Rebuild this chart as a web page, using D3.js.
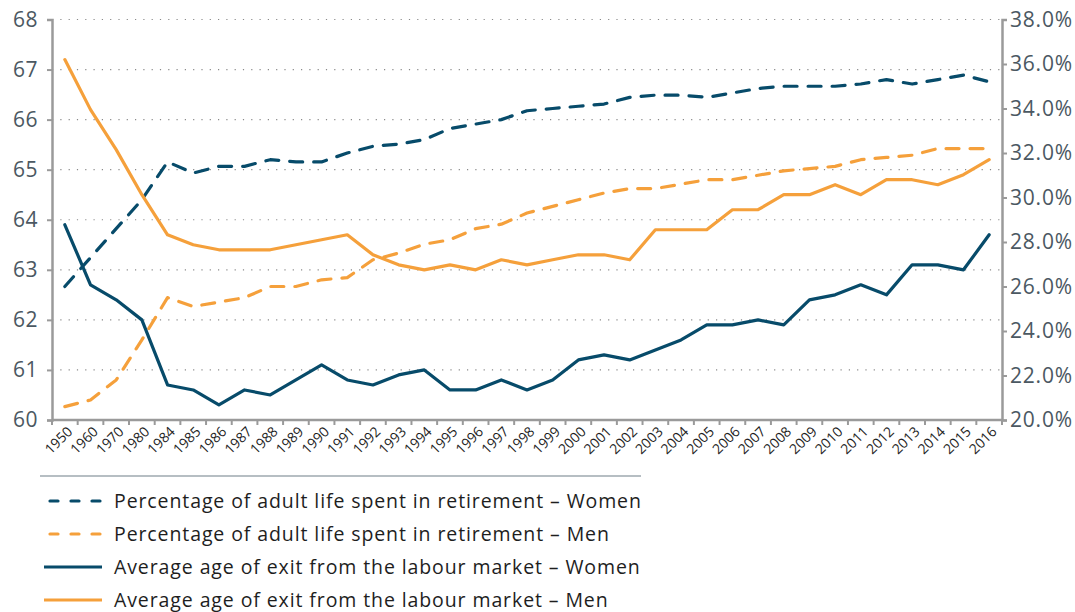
<!DOCTYPE html>
<html><head><meta charset="utf-8">
<script src="https://cdn.jsdelivr.net/npm/d3@7/dist/d3.min.js"></script>
<style>
body{margin:0;background:#fff;}
svg{display:block;font-family:"Open Sans",Lato,sans-serif;}
</style></head>
<body>
<svg id="chart" width="1075" height="612"></svg>
<script>
const years = ["1950","1960","1970","1980","1984","1985","1986","1987","1988","1989","1990","1991","1992","1993","1994","1995","1996","1997","1998","1999","2000","2001","2002","2003","2004","2005","2006","2007","2008","2009","2010","2011","2012","2013","2014","2015","2016"];
// Percentage of adult life spent in retirement (right axis, %)
const pctWomen = [26.0,27.3,28.6,29.9,31.6,31.1,31.4,31.4,31.7,31.6,31.6,32.0,32.3,32.4,32.6,33.1,33.3,33.5,33.9,34.0,34.1,34.2,34.5,34.6,34.6,34.5,34.7,34.9,35.0,35.0,35.0,35.1,35.3,35.1,35.3,35.5,35.2];
const pctMen = [20.6,20.9,21.8,23.6,25.5,25.1,25.3,25.5,26.0,26.0,26.3,26.4,27.2,27.5,27.9,28.1,28.6,28.8,29.3,29.6,29.9,30.2,30.4,30.4,30.6,30.8,30.8,31.0,31.2,31.3,31.4,31.7,31.8,31.9,32.2,32.2,32.2];
// Average age of exit from the labour market (left axis)
const ageWomen = [63.9,62.7,62.4,62.0,60.7,60.6,60.3,60.6,60.5,60.8,61.1,60.8,60.7,60.9,61.0,60.6,60.6,60.8,60.6,60.8,61.2,61.3,61.2,61.4,61.6,61.9,61.9,62.0,61.9,62.4,62.5,62.7,62.5,63.1,63.1,63.0,63.7];
const ageMen = [67.2,66.2,65.4,64.5,63.7,63.5,63.4,63.4,63.4,63.5,63.6,63.7,63.3,63.1,63.0,63.1,63.0,63.2,63.1,63.2,63.3,63.3,63.2,63.8,63.8,63.8,64.2,64.2,64.5,64.5,64.7,64.5,64.8,64.8,64.7,64.9,65.2];
const leftTicks = [60,61,62,63,64,65,66,67,68];
const rightTicks = [20,22,24,26,28,30,32,34,36,38];
const legendLabels = [
  "Percentage of adult life spent in retirement \u2013 Women",
  "Percentage of adult life spent in retirement \u2013 Men",
  "Average age of exit from the labour market \u2013 Women",
  "Average age of exit from the labour market \u2013 Men"
];

const NAVY = "#074b6a", ORANGE = "#f5a03b", AXIS = "#9a9a9a", TXT = "#4b5862";
const svg = d3.select("#chart");
const L = 52, R = 1002, T = 19.5, B = 420;
const x = d3.scaleBand().domain(years).range([L, R]).padding(0);
const xc = d => x(d) + x.bandwidth()/2;
const yL = d3.scaleLinear().domain([60,68]).range([B, T]);
const yR = d3.scaleLinear().domain([20,38]).range([B, T]);

// gridlines
svg.append("g").selectAll("line").data(leftTicks.filter(v => v > 60)).join("line")
  .attr("x1", L).attr("x2", R).attr("y1", d => yL(d)).attr("y2", d => yL(d))
  .attr("stroke", "#8a8a8a").attr("stroke-width", 1.2).attr("stroke-dasharray", "1.2,7.1");

// left axis
const gl = svg.append("g").attr("transform", `translate(${L},0)`)
  .call(d3.axisLeft(yL).tickValues(leftTicks).tickSize(5).tickPadding(9).tickFormat(d3.format("d")));
gl.select(".domain").attr("stroke", AXIS).attr("stroke-width", 2.5);
gl.selectAll(".tick line").attr("stroke", AXIS).attr("stroke-width", 2);
gl.selectAll(".tick text").attr("fill", TXT).attr("font-size", 21).attr("font-family", "Open Sans")
  .attr("letter-spacing", 0.5);

// right axis
const gr = svg.append("g").attr("transform", `translate(${R},0)`)
  .call(d3.axisRight(yR).tickValues(rightTicks).tickSize(5).tickPadding(3).tickFormat(d => d3.format(".1f")(d) + "%"));
gr.select(".domain").attr("stroke", AXIS).attr("stroke-width", 2.5);
gr.selectAll(".tick line").attr("stroke", AXIS).attr("stroke-width", 2);
gr.selectAll(".tick text").attr("fill", TXT).attr("font-size", 21).attr("font-family", "Open Sans")
  .attr("letter-spacing", 0.8);

// bottom axis
const gb = svg.append("g").attr("transform", `translate(0,${B})`);
gb.append("line").attr("x1", L).attr("x2", R).attr("stroke", AXIS).attr("stroke-width", 2.5);
gb.selectAll("line.tk").data(years.concat(["end"])).join("line").attr("class","tk")
  .attr("x1", (d,i) => L + i*x.bandwidth()).attr("x2", (d,i) => L + i*x.bandwidth())
  .attr("y1", 0).attr("y2", 5).attr("stroke", AXIS).attr("stroke-width", 2);
gb.selectAll("text").data(years).join("text")
  .attr("transform", d => `translate(${xc(d)+5},${9}) rotate(-45)`)
  .attr("text-anchor", "end").attr("dy", "0.35em")
  .attr("font-size", 14).attr("fill", "#1e1e1e").text(d => d);

// lines
const series = [
  {vals: pctWomen, scale: yR, color: NAVY, dash: "13,11"},
  {vals: pctMen, scale: yR, color: ORANGE, dash: "13,11"},
  {vals: ageWomen, scale: yL, color: NAVY, dash: null},
  {vals: ageMen, scale: yL, color: ORANGE, dash: null}
];
series.forEach(s => {
  const line = d3.line().x((d,i) => xc(years[i])).y(d => s.scale(d));
  svg.append("path").datum(s.vals).attr("d", line)
    .attr("fill", "none").attr("stroke", s.color).attr("stroke-width", 3.2)
    .attr("stroke-linejoin", "round").attr("stroke-linecap", "round")
    .attr("stroke-dasharray", s.dash);
});

// legend
svg.append("line").attr("x1", 40).attr("x2", 641).attr("y1", 476).attr("y2", 476)
  .attr("stroke", "#6f7f88").attr("stroke-width", 1.2);
const lg = svg.append("g");
legendLabels.forEach((lab, i) => {
  const yy = 501 + i*33;
  const s = series[i];
  lg.append("line").attr("x1", s.dash ? 50 : 44).attr("x2", s.dash ? 100 : 102).attr("y1", yy).attr("y2", yy)
    .attr("stroke", s.color).attr("stroke-width", 3.2)
    .attr("stroke-linecap", s.dash ? "round" : "butt")
    .attr("stroke-dasharray", s.dash ? "8,13" : null);
  lg.append("text").attr("x", 114).attr("y", yy).attr("dy", "0.35em")
    .attr("font-size", 19.5).attr("letter-spacing", 0.9).attr("fill", "#1e1e1e").text(lab);
});
</script>
</body></html>
